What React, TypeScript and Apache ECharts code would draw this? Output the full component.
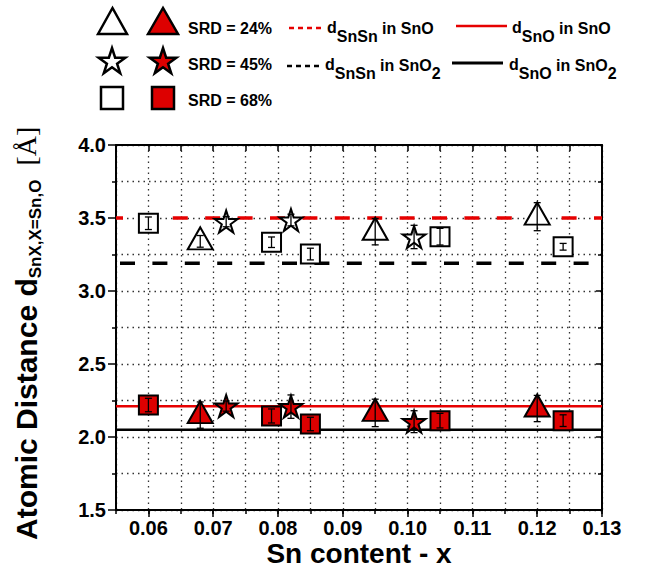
import React, { useEffect, useRef } from "react";
import * as echarts from "echarts";

// ---------------- data ----------------
// SRD = 24% (triangles)
const xTriangle = [0.068, 0.095, 0.12];
const yTriangleSnSn = [3.34, 3.406, 3.509];
const eTriangleSnSn = [0.04, 0.09, 0.096];
const yTriangleSnO = [2.15, 2.165, 2.195];
const eTriangleSnO = [0.09, 0.094, 0.09];

// SRD = 45% (stars)
const xStar = [0.072, 0.082, 0.101];
const yStarSnSn = [3.475, 3.486, 3.37];
const eStarSnSn = [0.035, 0.04, 0.08];
const yStarSnO = [2.212, 2.208, 2.105];
const eStarSnO = [0.035, 0.08, 0.075];

// SRD = 68% (squares)
const xSquare = [0.06, 0.079, 0.085, 0.105, 0.124];
const ySquareSnSn = [3.464, 3.334, 3.253, 3.372, 3.303];
const eSquareSnSn = [0.043, 0.036, 0.04, 0.057, 0.023];
const ySquareSnO = [2.219, 2.144, 2.089, 2.112, 2.112];
const eSquareSnO = [0.046, 0.048, 0.046, 0.05, 0.04];

// reference distances
const refSnSnInSnO = 3.5;
const refSnSnInSnO2 = 3.19;
const refSnOInSnO = 2.21;
const refSnOInSnO2 = 2.05;

// axes
const X_MIN = 0.055;
const X_MAX = 0.13;
const Y_MIN = 1.5;
const Y_MAX = 4.0;
const xMajorTicks = [0.06, 0.07, 0.08, 0.09, 0.1, 0.11, 0.12, 0.13];

const legendLabels = ["SRD = 24%", "SRD = 45%", "SRD = 68%"];

// ---------------- styling ----------------
const RED = "#dd0000";
const LINE_RED = "#e60000";
const SANS = '"Liberation Sans", Arial, Helvetica, sans-serif';
const SERIF = '"Liberation Serif", "DejaVu Serif", serif';
const STAR =
  "path://M50,0L61.17,34.63L97.55,34.55L68.07,55.87L79.39,90.45L50,69L20.61,90.45L31.93,55.87L2.45,34.55L38.83,34.63Z";

function pairs(xs: number[], ys: number[]) {
  return xs.map((x, i) => [x, ys[i]]);
}

function markerSeries(xs: number[], ys: number[], symbol: string, size: number[], offset: number[], filled: boolean) {
  return {
    type: "scatter",
    data: pairs(xs, ys),
    symbol,
    symbolSize: size,
    symbolOffset: offset,
    silent: true,
    z: 3,
    itemStyle: {
      color: filled ? RED : "#ffffff",
      borderColor: "#000",
      borderWidth: 2,
      opacity: 1,
    },
  };
}

function errSeries(xs: number[], ys: number[], es: number[]) {
  return {
    type: "custom",
    data: xs.map((x, i) => [x, ys[i] - es[i], ys[i] + es[i]]),
    encode: { x: 0, y: [1, 2] },
    silent: true,
    z: 4,
    renderItem: (params: any, api: any) => {
      const lo = api.coord([api.value(0), api.value(1)]);
      const hi = api.coord([api.value(0), api.value(2)]);
      const hw = 3.5;
      const style = { stroke: "#000", lineWidth: 1.3, fill: null };
      return {
        type: "group",
        children: [
          { type: "line", shape: { x1: lo[0], y1: lo[1], x2: hi[0], y2: hi[1] }, style },
          { type: "line", shape: { x1: lo[0] - hw, y1: lo[1], x2: lo[0] + hw, y2: lo[1] }, style },
          { type: "line", shape: { x1: hi[0] - hw, y1: hi[1], x2: hi[0] + hw, y2: hi[1] }, style },
        ],
      };
    },
  };
}

function refLine(value: number, color: string, width: number, dashed: boolean, dashOffset = 0) {
  return {
    type: "line",
    data: [
      [X_MIN, value],
      [X_MAX, value],
    ],
    symbol: "none",
    silent: true,
    z: 2,
    lineStyle: { color, width, type: dashed ? [15, 17.4] : "solid", dashOffset },
  };
}

function starPoints(cx: number, cy: number, R: number) {
  const pts: number[][] = [];
  for (let k = 0; k < 10; k++) {
    const a = ((-90 + 36 * k) * Math.PI) / 180;
    const r = k % 2 === 0 ? R : R * 0.382;
    pts.push([cx + r * Math.cos(a), cy + r * Math.sin(a)]);
  }
  return pts;
}

export default function App() {
  const ref = useRef<HTMLDivElement>(null);

  useEffect(() => {
    if (!ref.current) return;
    const chart = echarts.init(ref.current, undefined, { renderer: "svg" });

    const ctx = document.createElement("canvas").getContext("2d")!;
    const tw = (text: string, font: string) => {
      ctx.font = font;
      return ctx.measureText(text).width;
    };
    type Part = { text: string; font: string; y: number };
    const run = (x0: number, parts: Part[]) => {
      let x = x0;
      const els: any[] = [];
      for (const p of parts) {
        els.push({
          type: "text",
          x,
          y: p.y,
          silent: true,
          style: { text: p.text, font: p.font, fill: "#000", align: "left", verticalAlign: "middle" },
        });
        x += tw(p.text, p.font);
      }
      return { els, end: x };
    };

    const L16 = `bold 16px ${SANS}`;
    const graphics: any[] = [];

    // legend symbols
    const symStyleOpen = { fill: "#fff", stroke: "#000", lineWidth: 2.5 };
    const symStyleFill = { fill: RED, stroke: "#000", lineWidth: 2.5 };
    graphics.push(
      { type: "polygon", shape: { points: [[98, 34], [112.5, 8], [127, 34]] }, style: symStyleOpen },
      { type: "polygon", shape: { points: [[148, 34], [163, 8], [178, 34]] }, style: symStyleFill },
      { type: "polygon", shape: { points: starPoints(112, 62, 14) }, style: symStyleOpen },
      { type: "polygon", shape: { points: starPoints(163, 62, 14) }, style: symStyleFill },
      { type: "rect", shape: { x: 101, y: 87, width: 22, height: 22 }, style: symStyleOpen },
      { type: "rect", shape: { x: 152, y: 87, width: 22, height: 22 }, style: symStyleFill }
    );
    const rowY = [28, 64, 100];
    legendLabels.forEach((t, i) => {
      graphics.push({
        type: "text",
        x: 188,
        y: rowY[i],
        style: { text: t, font: L16, fill: "#000", align: "left", verticalAlign: "middle" },
      });
    });

    // legend lines
    graphics.push(
      { type: "line", shape: { x1: 289, y1: 28, x2: 323, y2: 28 }, style: { stroke: LINE_RED, lineWidth: 2.5, lineDash: [5, 4] } },
      { type: "line", shape: { x1: 287, y1: 66, x2: 322, y2: 66 }, style: { stroke: "#000", lineWidth: 2.5, lineDash: [5, 4] } },
      { type: "line", shape: { x1: 456, y1: 26, x2: 507, y2: 26 }, style: { stroke: LINE_RED, lineWidth: 2.5 } },
      { type: "line", shape: { x1: 452, y1: 63, x2: 503, y2: 63 }, style: { stroke: "#000", lineWidth: 3 } }
    );
    graphics.push(
      ...run(327, [
        { text: "d", font: L16, y: 27 },
        { text: "SnSn", font: L16, y: 36 },
        { text: " in SnO", font: L16, y: 28 },
      ]).els,
      ...run(325, [
        { text: "d", font: L16, y: 64 },
        { text: "SnSn", font: L16, y: 73 },
        { text: " in SnO", font: L16, y: 65 },
        { text: "2", font: L16, y: 73 },
      ]).els,
      ...run(512, [
        { text: "d", font: L16, y: 27 },
        { text: "SnO", font: L16, y: 36 },
        { text: " in SnO", font: L16, y: 28 },
      ]).els,
      ...run(509, [
        { text: "d", font: L16, y: 64 },
        { text: "SnO", font: L16, y: 73 },
        { text: " in SnO", font: L16, y: 65 },
        { text: "2", font: L16, y: 73 },
      ]).els
    );

    // y axis title (rotated)
    const yT = run(5, [
      { text: "Atomic Distance d", font: `bold 30px ${SANS}`, y: 26 },
      { text: "SnX,X=Sn,O", font: `bold 17px ${SANS}`, y: 35 },
    ]);
    graphics.push({
      type: "group",
      x: 0,
      y: 545,
      rotation: Math.PI / 2,
      silent: true,
      children: [
        ...yT.els,
        {
          type: "text",
          x: yT.end + 14,
          y: 26,
          style: { text: "[Å]", font: `28px ${SERIF}`, fill: "#000", align: "left", verticalAlign: "middle" },
        },
      ],
    });

    // x axis title
    graphics.push({
      type: "text",
      x: 359,
      y: 553,
      style: {
        text: "Sn content - x",
        font: `bold 28px ${SANS}`,
        lineHeight: 22,
        fill: "#000",
        align: "center",
        verticalAlign: "middle",
      },
    });

    const dotted = { color: "#333", width: 1.3, type: [1.5, 4] as any };
    const axisLine = { show: true, onZero: false, lineStyle: { color: "#000", width: 2 } };

    const option: any = {
      animation: false,
      backgroundColor: "#fff",
      grid: { left: 116, right: 50, top: 145, bottom: 66, containLabel: false },
      xAxis: [
        {
          type: "value",
          min: X_MIN,
          max: X_MAX,
          interval: 0.005,
          position: "bottom",
          axisLine,
          axisTick: { show: true, inside: false, length: 4, lineStyle: { color: "#000", width: 1.5 } },
          axisLabel: {
            show: true,
            margin: 9,
            color: "#000",
            fontSize: 20,
            lineHeight: 17,
            fontWeight: "bold",
            fontFamily: SANS,
            formatter: (v: number) => (Math.round(v * 1000) % 10 === 0 ? v.toFixed(2) : ""),
          },
          splitLine: { show: true, lineStyle: dotted },
        },
        {
          type: "value",
          min: X_MIN,
          max: X_MAX,
          position: "bottom",
          axisLine: { show: false },
          axisTick: { show: true, inside: false, length: 7, customValues: xMajorTicks, lineStyle: { color: "#000", width: 1.5 } },
          axisLabel: { show: false },
          splitLine: { show: false },
        },
        {
          type: "value",
          min: X_MIN,
          max: X_MAX,
          interval: 0.005,
          position: "top",
          axisLine,
          axisTick: { show: true, inside: true, length: 6, lineStyle: { color: "#000", width: 1.5 } },
          axisLabel: { show: false },
          splitLine: { show: false },
        },
      ],
      yAxis: [
        {
          type: "value",
          min: Y_MIN,
          max: Y_MAX,
          interval: 0.5,
          position: "left",
          axisLine,
          axisTick: { show: true, inside: false, length: 8, lineStyle: { color: "#000", width: 1.5 } },
          minorTick: { show: true, splitNumber: 2, length: 4, lineStyle: { color: "#000", width: 1.5 } },
          axisLabel: {
            show: true,
            margin: 10,
            color: "#000",
            fontSize: 20,
            fontWeight: "bold",
            fontFamily: SANS,
            formatter: (v: number) => v.toFixed(1),
          },
          splitLine: { show: true, lineStyle: dotted },
          minorSplitLine: { show: true, lineStyle: dotted },
        },
        {
          type: "value",
          min: Y_MIN,
          max: Y_MAX,
          interval: 0.5,
          position: "right",
          axisLine,
          axisTick: { show: true, inside: true, length: 6, lineStyle: { color: "#000", width: 1.5 } },
          minorTick: { show: true, splitNumber: 2, length: 4, lineStyle: { color: "#000", width: 1.5 } },
          axisLabel: { show: false },
          splitLine: { show: false },
        },
      ],
      series: [
        refLine(refSnSnInSnO, LINE_RED, 3.5, true, 8),
        refLine(refSnSnInSnO2, "#000", 3.5, true, -4),
        refLine(refSnOInSnO, LINE_RED, 2.5, false),
        refLine(refSnOInSnO2, "#000", 2.5, false),

        markerSeries(xTriangle, yTriangleSnSn, "triangle", [25, 22], [0, -3], false),
        markerSeries(xStar, yStarSnSn, STAR, [23, 22], [0, 0], false),
        markerSeries(xSquare, ySquareSnSn, "rect", [19, 19], [0, 0], false),
        markerSeries(xTriangle, yTriangleSnO, "triangle", [25, 22], [0, -3], true),
        markerSeries(xStar, yStarSnO, STAR, [23, 22], [0, 0], true),
        markerSeries(xSquare, ySquareSnO, "rect", [19, 19], [0, 0], true),

        errSeries(xTriangle, yTriangleSnSn, eTriangleSnSn),
        errSeries(xStar, yStarSnSn, eStarSnSn),
        errSeries(xSquare, ySquareSnSn, eSquareSnSn),
        errSeries(xTriangle, yTriangleSnO, eTriangleSnO),
        errSeries(xStar, yStarSnO, eStarSnO),
        errSeries(xSquare, ySquareSnO, eSquareSnO),
      ],
      graphic: graphics,
    };

    chart.setOption(option);
    return () => chart.dispose();
  }, []);

  return (
    <div
      ref={ref}
      style={{ position: "fixed", left: 0, top: 0, width: 652, height: 576, background: "#fff" }}
    />
  );
}
